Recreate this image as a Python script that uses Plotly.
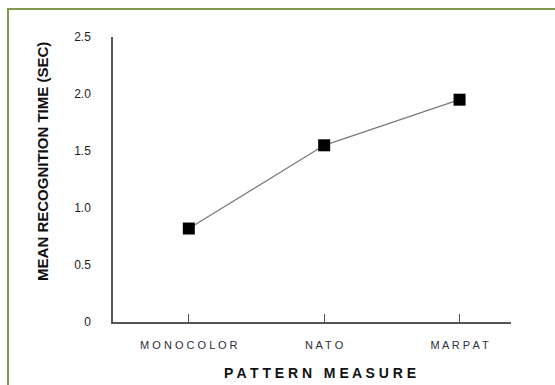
import plotly.graph_objects as go

# Mean recognition time by camouflage pattern
patterns = ["MONOCOLOR", "NATO", "MARPAT"]
mean_time_sec = [0.82, 1.55, 1.95]

y_ticks = [0, 0.5, 1.0, 1.5, 2.0, 2.5]
y_tick_text = ["0", "0.5", "1.0", "1.5", "2.0", "2.5"]

x_title = "PATTERN MEASURE"
y_title = "MEAN RECOGNITION TIME (SEC)"


def spaced(text):
    """Letter-spaced label, mimicking wide tracking."""
    return " ".join(text)


FONT = "Liberation Sans, Arial, sans-serif"
NARROW = "Liberation Sans Narrow, Arial Narrow, Liberation Sans, sans-serif"

fig = go.Figure(
    go.Scatter(
        x=patterns,
        y=mean_time_sec,
        mode="lines+markers",
        line=dict(color="#7a7a7a", width=1.3),
        marker=dict(symbol="square", size=12, color="#000000", line=dict(width=0)),
        showlegend=False,
        hoverinfo="x+y",
    )
)

fig.update_layout(
    width=555,
    height=385,
    margin=dict(l=113, r=44, t=37, b=63),
    paper_bgcolor="#ffffff",
    plot_bgcolor="#ffffff",
    font=dict(family=FONT, color="#333333"),
    xaxis=dict(
        type="category",
        range=[-0.56, 2.38],
        tickmode="array",
        tickvals=patterns,
        ticktext=[spaced(p) for p in patterns],
        tickfont=dict(size=11, color="#2e2e3a"),
        ticks="inside",
        ticklen=8,
        tickwidth=1.3,
        tickcolor="#555555",
        showline=True,
        linecolor="#555555",
        linewidth=1.5,
        showgrid=False,
        zeroline=False,
        ticklabelstandoff=12,
    ),
    yaxis=dict(
        range=[0, 2.5],
        tickmode="array",
        tickvals=y_ticks,
        ticktext=y_tick_text,
        tickfont=dict(size=12, color="#1e1e1e"),
        ticks="",
        showline=True,
        linecolor="#555555",
        linewidth=1.5,
        showgrid=False,
        zeroline=False,
        ticklabelstandoff=18,
    ),
    annotations=[
        dict(
            text="<b>" + "   ".join(spaced(w) for w in x_title.split()) + "</b>",
            xref="paper",
            yref="paper",
            x=0.52,
            y=-0.179,
            xanchor="center",
            yanchor="middle",
            showarrow=False,
            font=dict(size=14, color="#111111", family=FONT),
        ),
        dict(
            text="<b>" + y_title + "</b>",
            xref="paper",
            yref="paper",
            x=-0.176,
            y=0.565,
            xanchor="center",
            yanchor="middle",
            textangle=-90,
            showarrow=False,
            font=dict(size=15, color="#111111", family=NARROW),
        ),
    ],
    shapes=[
        # olive frame around the figure
        dict(
            type="rect",
            xref="paper",
            yref="paper",
            x0=-0.2638,
            x1=1.3,
            y0=-0.4,
            y1=1.0983,
            line=dict(color="#7f9a4c", width=2),
            fillcolor="rgba(0,0,0,0)",
            layer="below",
        )
    ],
)

fig.write_html("out.html")
